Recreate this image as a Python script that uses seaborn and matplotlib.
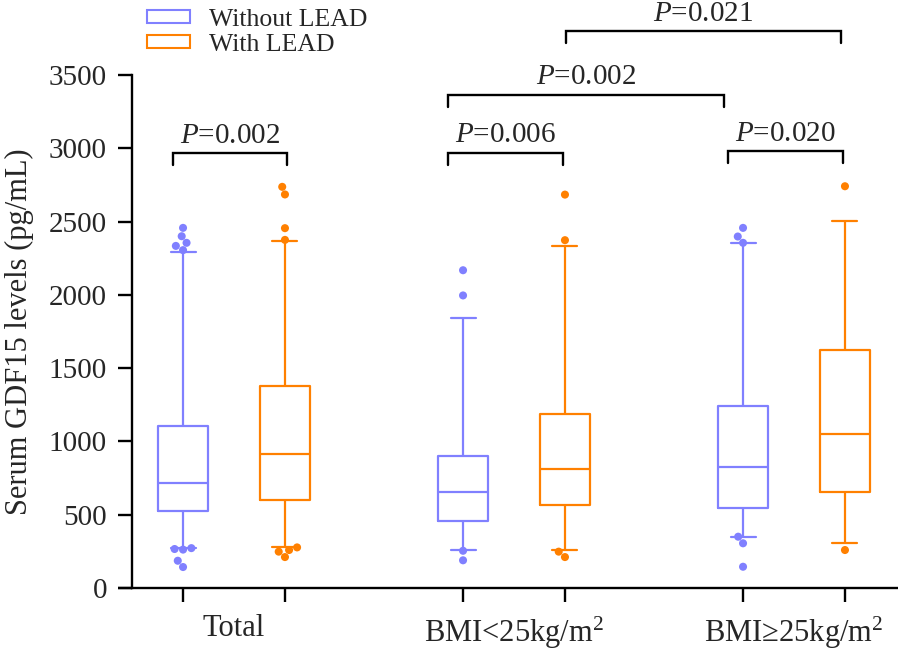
import matplotlib
matplotlib.use("Agg")
import numpy as np
import pandas as pd
import seaborn as sns
import matplotlib.pyplot as plt
from matplotlib.patches import Patch

# ---------------- data ----------------
groups = ["Total", "BMI<25kg/m$^2$", "BMI≥25kg/m$^2$"]
hues = ["Without LEAD", "With LEAD"]

without_whislo = [270, 259, 350]
without_q1 = [527, 455, 543]
without_median = [716, 652, 827]
without_q3 = [1105, 902, 1245]
without_whishi = [2289, 1843, 2352]

with_whislo = [282, 257, 305]
with_q1 = [602, 564, 657]
with_median = [911, 809, 1048]
with_q3 = [1377, 1184, 1627]
with_whishi = [2368, 2334, 2505]

without_outliers = [[2305, 2334, 2355, 2400, 2457, 272, 262, 266, 186, 143],
                    [1996, 2168, 254, 189],
                    [2355, 2398, 2457, 350, 305, 145]]
with_outliers = [[2375, 2455, 2685, 2737, 277, 259, 248, 211],
                 [2373, 2684, 248, 211],
                 [2741, 259]]

# significance brackets: (x left, x right, bar height, p-value text)
bracket_left = [-0.218, 0.764, 1.764, 0.764, 1.185]
bracket_right = [0.189, 1.175, 2.175, 1.750, 2.167]
bracket_height = [2968, 2971, 2982, 3366, 3800]
bracket_p = ["0.002", "0.006", "0.020", "0.002", "0.021"]

yticks = [0, 500, 1000, 1500, 2000, 2500, 3000, 3500]

colors = {"Without LEAD": "#8080ff", "With LEAD": "#ff8000"}

# ---------------- layout constants ----------------
HUE_OFFSET = 0.182

# ---------------- build tables ----------------
box_rows = []
flier_rows = []
summaries = {
    "Without LEAD": (without_whislo, without_q1, without_median, without_q3, without_whishi),
    "With LEAD": (with_whislo, with_q1, with_median, with_q3, with_whishi),
}
outliers = {"Without LEAD": without_outliers, "With LEAD": with_outliers}
for gi, g in enumerate(groups):
    for hi, h in enumerate(hues):
        pos = gi + (-HUE_OFFSET if hi == 0 else HUE_OFFSET)
        for arr in summaries[h]:
            box_rows.append({"pos": pos, "hue": h, "value": arr[gi]})
        for v in outliers[h][gi]:
            flier_rows.append({"pos": pos, "hue": h, "value": v})
box_df = pd.DataFrame(box_rows)
flier_df = pd.DataFrame(flier_rows)

# ---------------- style ----------------
sns.set_theme(style="ticks")
plt.rcParams["font.family"] = ["Liberation Serif", "DejaVu Serif"]
plt.rcParams["mathtext.fontset"] = "custom"
plt.rcParams["mathtext.rm"] = "Liberation Serif"
plt.rcParams["mathtext.it"] = "Liberation Serif:italic"

fig = plt.figure(figsize=(8.98, 6.51), dpi=100)
W, H = 898, 651
ax_l, ax_r, ax_b, ax_t = 132, 898, 588, 75
ax = fig.add_axes([ax_l / W, 1 - ax_b / H, (ax_r - ax_l) / W, (ax_b - ax_t) / H])

sns.boxplot(data=box_df, x="pos", y="value", hue="hue",
            hue_order=hues, palette=colors, native_scale=True, dodge=False,
            fill=False, whis=(0, 100), showfliers=False, width=0.49,
            linewidth=1.6, legend=False, ax=ax)
sns.swarmplot(data=flier_df, x="pos", y="value", hue="hue", hue_order=hues,
              palette=colors, native_scale=True, dodge=False, size=5.8,
              linewidth=0, legend=False, ax=ax)

# axes ranges
px_per_unit = 280.0
x0 = -(234 - ax_l) / px_per_unit
x1 = x0 + (ax_r - ax_l) / px_per_unit
ax.set_xlim(x0, x1)
ax.set_ylim(0, 3500)

# ticks
positions = sorted(box_df["pos"].unique())
ax.set_xticks(positions)
ax.set_xticklabels([""] * len(positions))
ax.set_xticks(range(len(groups)), minor=True)
ax.set_xticklabels(groups, minor=True)
ax.tick_params(axis="x", which="minor", length=0, pad=19, labelsize=22)
ax.tick_params(axis="x", which="major", length=10, width=1.7, color="black")
ax.set_yticks(yticks)
ax.set_yticklabels([str(t) for t in yticks])
ax.tick_params(axis="y", length=10, width=1.7, pad=8, labelsize=21, color="black")
ax.set_xlabel("")
ax.set_ylabel("Serum GDF15 levels (pg/mL)", fontsize=22)
ax.yaxis.set_label_coords(-0.128, 0.5)

for s in ["top", "right"]:
    ax.spines[s].set_visible(False)
for s in ["left", "bottom"]:
    ax.spines[s].set_linewidth(1.7)
    ax.spines[s].set_color("black")
# x axis line continues left under the y-axis ticks
ax.plot([-14 / (ax_r - ax_l), 0], [0, 0], transform=ax.get_yaxis_transform(),
        color="black", lw=1.7, clip_on=False, solid_capstyle="butt")

# significance brackets
drop = 85
for xl, xr, yb, p in zip(bracket_left, bracket_right, bracket_height, bracket_p):
    ax.plot([xl, xl, xr, xr], [yb - drop, yb, yb, yb - drop], color="black",
            lw=1.7, clip_on=False, solid_joinstyle="miter")
    ax.text((xl + xr) / 2, yb + 70, "$\\it{P}$=" + p, ha="center", va="baseline",
            fontsize=21, clip_on=False)

# legend
handles = [Patch(facecolor="none", edgecolor=colors[h], linewidth=1.5, label=h) for h in hues]
fig.legend(handles=handles, loc="upper left", bbox_to_anchor=(147 / W, 1 - 9 / H),
           frameon=False, fontsize=18.5, handlelength=1.67, handleheight=0.39,
           handletextpad=0.74, labelspacing=0.12, borderpad=0, borderaxespad=0)

fig.savefig("out.png", dpi=100)
